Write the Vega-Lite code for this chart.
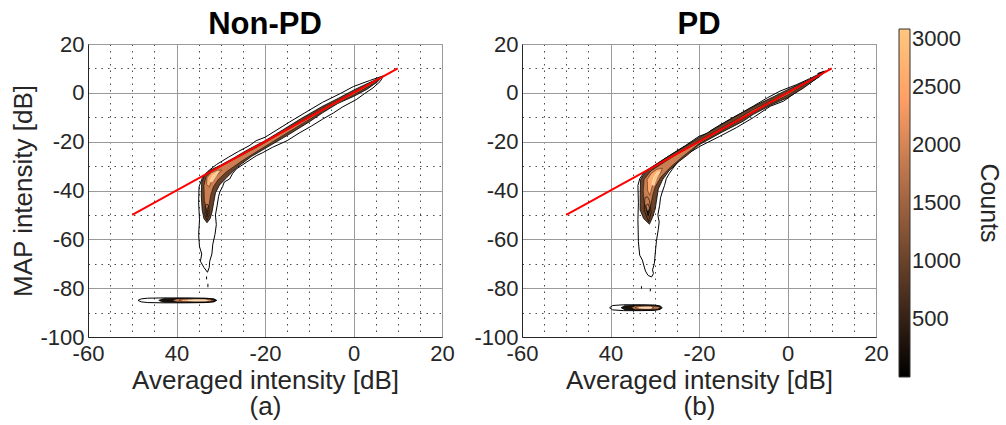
{
"$schema":"https://vega.github.io/schema/vega-lite/v6.json",
"padding":{"left":10,"top":8,"right":0,"bottom":0},
"background":"white",
"data":{"values":[
{"p":"a","t":"o","s":"a_o1","x":6.8,"y":7.0},{"p":"a","t":"o","s":"a_o1","x":3.6,"y":5.0},{"p":"a","t":"o","s":"a_o1","x":0,"y":2.6},{"p":"a","t":"o","s":"a_o1","x":-3,"y":-0.3},{"p":"a","t":"o","s":"a_o1","x":-7,"y":-3.9},{"p":"a","t":"o","s":"a_o1","x":-11,"y":-8.2},{"p":"a","t":"o","s":"a_o1","x":-14.5,"y":-12},{"p":"a","t":"o","s":"a_o1","x":-17.5,"y":-15.4},{"p":"a","t":"o","s":"a_o1","x":-20,"y":-18.2},{"p":"a","t":"o","s":"a_o1","x":-22,"y":-19.6},{"p":"a","t":"o","s":"a_o1","x":-23.6,"y":-21.7},{"p":"a","t":"o","s":"a_o1","x":-26,"y":-24},{"p":"a","t":"o","s":"a_o1","x":-28.2,"y":-26.3},{"p":"a","t":"o","s":"a_o1","x":-31,"y":-29.4},{"p":"a","t":"o","s":"a_o1","x":-33,"y":-32.3},{"p":"a","t":"o","s":"a_o1","x":-34.2,"y":-35},{"p":"a","t":"o","s":"a_o1","x":-34.9,"y":-38.5},{"p":"a","t":"o","s":"a_o1","x":-35.0,"y":-45},{"p":"a","t":"o","s":"a_o1","x":-34.8,"y":-52},{"p":"a","t":"o","s":"a_o1","x":-35.0,"y":-58},{"p":"a","t":"o","s":"a_o1","x":-34.8,"y":-63},{"p":"a","t":"o","s":"a_o1","x":-34.3,"y":-66},{"p":"a","t":"o","s":"a_o1","x":-34.6,"y":-69},{"p":"a","t":"o","s":"a_o1","x":-33.8,"y":-71.5},{"p":"a","t":"o","s":"a_o1","x":-33.0,"y":-73.5},{"p":"a","t":"o","s":"a_o1","x":-32.6,"y":-71.5},{"p":"a","t":"o","s":"a_o1","x":-32.5,"y":-69},{"p":"a","t":"o","s":"a_o1","x":-32.0,"y":-66},{"p":"a","t":"o","s":"a_o1","x":-31.8,"y":-62},{"p":"a","t":"o","s":"a_o1","x":-31.3,"y":-58},{"p":"a","t":"o","s":"a_o1","x":-31.0,"y":-54},{"p":"a","t":"o","s":"a_o1","x":-31.2,"y":-50},{"p":"a","t":"o","s":"a_o1","x":-30.8,"y":-46},{"p":"a","t":"o","s":"a_o1","x":-30.5,"y":-42.5},{"p":"a","t":"o","s":"a_o1","x":-30.2,"y":-40.5},{"p":"a","t":"o","s":"a_o1","x":-29.6,"y":-38.5},{"p":"a","t":"o","s":"a_o1","x":-29.2,"y":-36.5},{"p":"a","t":"o","s":"a_o1","x":-28.0,"y":-35.3},{"p":"a","t":"o","s":"a_o1","x":-27.3,"y":-33},{"p":"a","t":"o","s":"a_o1","x":-26.5,"y":-31.2},{"p":"a","t":"o","s":"a_o1","x":-24.5,"y":-28.8},{"p":"a","t":"o","s":"a_o1","x":-22,"y":-25.8},{"p":"a","t":"o","s":"a_o1","x":-20.5,"y":-24.5},{"p":"a","t":"o","s":"a_o1","x":-18.3,"y":-22.3},{"p":"a","t":"o","s":"a_o1","x":-15,"y":-19.6},{"p":"a","t":"o","s":"a_o1","x":-12.3,"y":-16.5},{"p":"a","t":"o","s":"a_o1","x":-9.5,"y":-13.6},{"p":"a","t":"o","s":"a_o1","x":-7,"y":-10.8},{"p":"a","t":"o","s":"a_o1","x":-4.5,"y":-8.2},{"p":"a","t":"o","s":"a_o1","x":-2.4,"y":-5.7},{"p":"a","t":"o","s":"a_o1","x":0.6,"y":-2.8},{"p":"a","t":"o","s":"a_o1","x":2.5,"y":-0.3},{"p":"a","t":"o","s":"a_o1","x":4.4,"y":2.0},{"p":"a","t":"o","s":"a_o1","x":6.0,"y":4.6},{"p":"a","t":"o","s":"a_o1","x":6.8,"y":7.0},
{"p":"a","t":"o","s":"a_o2","x":-48.7,"y":-85},{"p":"a","t":"o","s":"a_o2","x":-48,"y":-84.4},{"p":"a","t":"o","s":"a_o2","x":-46.5,"y":-84.1},{"p":"a","t":"o","s":"a_o2","x":-43,"y":-84.0},{"p":"a","t":"o","s":"a_o2","x":-38,"y":-84.0},{"p":"a","t":"o","s":"a_o2","x":-33.5,"y":-84.1},{"p":"a","t":"o","s":"a_o2","x":-31.6,"y":-84.4},{"p":"a","t":"o","s":"a_o2","x":-30.9,"y":-85},{"p":"a","t":"o","s":"a_o2","x":-31.6,"y":-85.6},{"p":"a","t":"o","s":"a_o2","x":-33.5,"y":-85.9},{"p":"a","t":"o","s":"a_o2","x":-38,"y":-86},{"p":"a","t":"o","s":"a_o2","x":-43,"y":-86},{"p":"a","t":"o","s":"a_o2","x":-46.5,"y":-85.9},{"p":"a","t":"o","s":"a_o2","x":-48,"y":-85.6},{"p":"a","t":"o","s":"a_o2","x":-48.7,"y":-85},
{"p":"a","t":"o","s":"a_o3","x":-33.2,"y":-75.2},{"p":"a","t":"o","s":"a_o3","x":-33.2,"y":-76.4},
{"p":"a","t":"o","s":"a_o4","x":-32.9,"y":-78.2},{"p":"a","t":"o","s":"a_o4","x":-32.9,"y":-79.6},
{"p":"a","t":"f1","s":"a_f1","v":1000,"x":6.5,"y":6.6},{"p":"a","t":"f1","s":"a_f1","v":1000,"x":3,"y":3.7},{"p":"a","t":"f1","s":"a_f1","v":1000,"x":0,"y":1.1},{"p":"a","t":"f1","s":"a_f1","v":1000,"x":-3.5,"y":-2.3},{"p":"a","t":"f1","s":"a_f1","v":1000,"x":-7,"y":-5.5},{"p":"a","t":"f1","s":"a_f1","v":1000,"x":-12,"y":-10.7},{"p":"a","t":"f1","s":"a_f1","v":1000,"x":-16,"y":-15.2},{"p":"a","t":"f1","s":"a_f1","v":1000,"x":-20,"y":-19.6},{"p":"a","t":"f1","s":"a_f1","v":1000,"x":-24,"y":-23.4},{"p":"a","t":"f1","s":"a_f1","v":1000,"x":-27,"y":-26.6},{"p":"a","t":"f1","s":"a_f1","v":1000,"x":-30,"y":-29.6},{"p":"a","t":"f1","s":"a_f1","v":1000,"x":-32.3,"y":-31.6},{"p":"a","t":"f1","s":"a_f1","v":1000,"x":-33.7,"y":-33.6},{"p":"a","t":"f1","s":"a_f1","v":1000,"x":-34.3,"y":-36.5},{"p":"a","t":"f1","s":"a_f1","v":1000,"x":-34.4,"y":-42},{"p":"a","t":"f1","s":"a_f1","v":1000,"x":-34.2,"y":-48},{"p":"a","t":"f1","s":"a_f1","v":1000,"x":-33.8,"y":-51.5},{"p":"a","t":"f1","s":"a_f1","v":1000,"x":-33.1,"y":-53.2},{"p":"a","t":"f1","s":"a_f1","v":1000,"x":-32.4,"y":-51.5},{"p":"a","t":"f1","s":"a_f1","v":1000,"x":-32.0,"y":-49},{"p":"a","t":"f1","s":"a_f1","v":1000,"x":-31.6,"y":-45},{"p":"a","t":"f1","s":"a_f1","v":1000,"x":-31.2,"y":-41},{"p":"a","t":"f1","s":"a_f1","v":1000,"x":-30.3,"y":-37.8},{"p":"a","t":"f1","s":"a_f1","v":1000,"x":-28.6,"y":-34.6},{"p":"a","t":"f1","s":"a_f1","v":1000,"x":-26,"y":-30},{"p":"a","t":"f1","s":"a_f1","v":1000,"x":-23,"y":-26},{"p":"a","t":"f1","s":"a_f1","v":1000,"x":-20,"y":-22.8},{"p":"a","t":"f1","s":"a_f1","v":1000,"x":-15,"y":-17.5},{"p":"a","t":"f1","s":"a_f1","v":1000,"x":-10,"y":-11.9},{"p":"a","t":"f1","s":"a_f1","v":1000,"x":-7,"y":-8.2},{"p":"a","t":"f1","s":"a_f1","v":1000,"x":-3.5,"y":-4.3},{"p":"a","t":"f1","s":"a_f1","v":1000,"x":0,"y":-1.5},{"p":"a","t":"f1","s":"a_f1","v":1000,"x":3,"y":1.4},{"p":"a","t":"f1","s":"a_f1","v":1000,"x":5.5,"y":4.6},{"p":"a","t":"f1","s":"a_f1","v":1000,"x":6.5,"y":6.6},
{"p":"a","t":"f1","s":"a_f1b","v":250,"x":-44,"y":-85},{"p":"a","t":"f1","s":"a_f1b","v":250,"x":-43,"y":-84.3},{"p":"a","t":"f1","s":"a_f1b","v":250,"x":-38,"y":-84.2},{"p":"a","t":"f1","s":"a_f1b","v":250,"x":-33,"y":-84.25},{"p":"a","t":"f1","s":"a_f1b","v":250,"x":-31.5,"y":-84.5},{"p":"a","t":"f1","s":"a_f1b","v":250,"x":-31.1,"y":-85},{"p":"a","t":"f1","s":"a_f1b","v":250,"x":-31.5,"y":-85.5},{"p":"a","t":"f1","s":"a_f1b","v":250,"x":-33,"y":-85.75},{"p":"a","t":"f1","s":"a_f1b","v":250,"x":-38,"y":-85.8},{"p":"a","t":"f1","s":"a_f1b","v":250,"x":-43,"y":-85.7},{"p":"a","t":"f1","s":"a_f1b","v":250,"x":-44,"y":-85},
{"p":"a","t":"f2","s":"a_f2","v":1900,"x":5.6,"y":5.4},{"p":"a","t":"f2","s":"a_f2","v":1900,"x":0,"y":0.2},{"p":"a","t":"f2","s":"a_f2","v":1900,"x":-7,"y":-6.4},{"p":"a","t":"f2","s":"a_f2","v":1900,"x":-15,"y":-14.8},{"p":"a","t":"f2","s":"a_f2","v":1900,"x":-20,"y":-20.4},{"p":"a","t":"f2","s":"a_f2","v":1900,"x":-25,"y":-25.3},{"p":"a","t":"f2","s":"a_f2","v":1900,"x":-29,"y":-28.9},{"p":"a","t":"f2","s":"a_f2","v":1900,"x":-31.8,"y":-31.6},{"p":"a","t":"f2","s":"a_f2","v":1900,"x":-33.3,"y":-34.3},{"p":"a","t":"f2","s":"a_f2","v":1900,"x":-33.8,"y":-38},{"p":"a","t":"f2","s":"a_f2","v":1900,"x":-33.7,"y":-44},{"p":"a","t":"f2","s":"a_f2","v":1900,"x":-33.2,"y":-48},{"p":"a","t":"f2","s":"a_f2","v":1900,"x":-32.6,"y":-45.5},{"p":"a","t":"f2","s":"a_f2","v":1900,"x":-32.3,"y":-42},{"p":"a","t":"f2","s":"a_f2","v":1900,"x":-31.7,"y":-38.6},{"p":"a","t":"f2","s":"a_f2","v":1900,"x":-30.6,"y":-35.6},{"p":"a","t":"f2","s":"a_f2","v":1900,"x":-28.7,"y":-32.3},{"p":"a","t":"f2","s":"a_f2","v":1900,"x":-25,"y":-27.6},{"p":"a","t":"f2","s":"a_f2","v":1900,"x":-20,"y":-22},{"p":"a","t":"f2","s":"a_f2","v":1900,"x":-15,"y":-16.4},{"p":"a","t":"f2","s":"a_f2","v":1900,"x":-7,"y":-7.6},{"p":"a","t":"f2","s":"a_f2","v":1900,"x":0,"y":-0.8},{"p":"a","t":"f2","s":"a_f2","v":1900,"x":4.5,"y":3.8},{"p":"a","t":"f2","s":"a_f2","v":1900,"x":5.6,"y":5.4},
{"p":"a","t":"f2","s":"a_f2b","v":1900,"x":-41,"y":-85},{"p":"a","t":"f2","s":"a_f2b","v":1900,"x":-40,"y":-84.4},{"p":"a","t":"f2","s":"a_f2b","v":1900,"x":-36,"y":-84.3},{"p":"a","t":"f2","s":"a_f2b","v":1900,"x":-32.5,"y":-84.4},{"p":"a","t":"f2","s":"a_f2b","v":1900,"x":-31.4,"y":-85},{"p":"a","t":"f2","s":"a_f2b","v":1900,"x":-32.5,"y":-85.6},{"p":"a","t":"f2","s":"a_f2b","v":1900,"x":-36,"y":-85.7},{"p":"a","t":"f2","s":"a_f2b","v":1900,"x":-40,"y":-85.6},{"p":"a","t":"f2","s":"a_f2b","v":1900,"x":-41,"y":-85},
{"p":"a","t":"f3","s":"a_f3","v":2600,"x":-33.2,"y":-37.5},{"p":"a","t":"f3","s":"a_f3","v":2600,"x":-33.1,"y":-34.8},{"p":"a","t":"f3","s":"a_f3","v":2600,"x":-32.2,"y":-32.8},{"p":"a","t":"f3","s":"a_f3","v":2600,"x":-30.8,"y":-31.7},{"p":"a","t":"f3","s":"a_f3","v":2600,"x":-29.8,"y":-31.6},{"p":"a","t":"f3","s":"a_f3","v":2600,"x":-30.5,"y":-33},{"p":"a","t":"f3","s":"a_f3","v":2600,"x":-31.8,"y":-35},{"p":"a","t":"f3","s":"a_f3","v":2600,"x":-32.6,"y":-38.5},{"p":"a","t":"f3","s":"a_f3","v":2600,"x":-33.2,"y":-37.5},
{"p":"a","t":"f3","s":"a_f3b","v":2600,"x":-39.4,"y":-85},{"p":"a","t":"f3","s":"a_f3b","v":2600,"x":-38.5,"y":-84.55},{"p":"a","t":"f3","s":"a_f3b","v":2600,"x":-35,"y":-84.5},{"p":"a","t":"f3","s":"a_f3b","v":2600,"x":-32.3,"y":-84.7},{"p":"a","t":"f3","s":"a_f3b","v":2600,"x":-32,"y":-85},{"p":"a","t":"f3","s":"a_f3b","v":2600,"x":-32.3,"y":-85.3},{"p":"a","t":"f3","s":"a_f3b","v":2600,"x":-35,"y":-85.5},{"p":"a","t":"f3","s":"a_f3b","v":2600,"x":-38.5,"y":-85.45},{"p":"a","t":"f3","s":"a_f3b","v":2600,"x":-39.4,"y":-85},
{"p":"a","t":"f4","s":"a_f4","v":3000,"x":-32.4,"y":-36.2},{"p":"a","t":"f4","s":"a_f4","v":3000,"x":-31.7,"y":-33.6},{"p":"a","t":"f4","s":"a_f4","v":3000,"x":-30.6,"y":-32.2},{"p":"a","t":"f4","s":"a_f4","v":3000,"x":-30.9,"y":-33.6},{"p":"a","t":"f4","s":"a_f4","v":3000,"x":-32,"y":-36.5},{"p":"a","t":"f4","s":"a_f4","v":3000,"x":-32.4,"y":-36.2},
{"p":"a","t":"f4","s":"a_f4b","v":3000,"x":-37.5,"y":-85},{"p":"a","t":"f4","s":"a_f4b","v":3000,"x":-36,"y":-84.75},{"p":"a","t":"f4","s":"a_f4b","v":3000,"x":-33.5,"y":-84.75},{"p":"a","t":"f4","s":"a_f4b","v":3000,"x":-33,"y":-85},{"p":"a","t":"f4","s":"a_f4b","v":3000,"x":-33.5,"y":-85.25},{"p":"a","t":"f4","s":"a_f4b","v":3000,"x":-36,"y":-85.25},{"p":"a","t":"f4","s":"a_f4b","v":3000,"x":-37.5,"y":-85},
{"p":"a","t":"o2","s":"a_l1","x":-33.5,"y":-46.5},{"p":"a","t":"o2","s":"a_l1","x":-33.6,"y":-50},{"p":"a","t":"o2","s":"a_l1","x":-33.1,"y":-52.2},{"p":"a","t":"o2","s":"a_l1","x":-32.6,"y":-50},{"p":"a","t":"o2","s":"a_l1","x":-32.7,"y":-46.5},{"p":"a","t":"o2","s":"a_l1","x":-33.1,"y":-45.5},{"p":"a","t":"o2","s":"a_l1","x":-33.5,"y":-46.5},
{"p":"a","t":"o2","s":"a_l2","x":-33.3,"y":-48.8},{"p":"a","t":"o2","s":"a_l2","x":-33.1,"y":-50.8},{"p":"a","t":"o2","s":"a_l2","x":-32.9,"y":-48.8},{"p":"a","t":"o2","s":"a_l2","x":-33.1,"y":-48},{"p":"a","t":"o2","s":"a_l2","x":-33.3,"y":-48.8},

{"p":"b","t":"o","s":"b_o1","x":8.6,"y":9.0},{"p":"b","t":"o","s":"b_o1","x":5,"y":5.8},{"p":"b","t":"o","s":"b_o1","x":2.1,"y":3.4},{"p":"b","t":"o","s":"b_o1","x":-1.7,"y":0.7},{"p":"b","t":"o","s":"b_o1","x":-4.5,"y":-2},{"p":"b","t":"o","s":"b_o1","x":-7.7,"y":-5.4},{"p":"b","t":"o","s":"b_o1","x":-10.5,"y":-8.3},{"p":"b","t":"o","s":"b_o1","x":-13,"y":-10.8},{"p":"b","t":"o","s":"b_o1","x":-15.5,"y":-13.4},{"p":"b","t":"o","s":"b_o1","x":-17.5,"y":-15.6},{"p":"b","t":"o","s":"b_o1","x":-18,"y":-16.5},{"p":"b","t":"o","s":"b_o1","x":-20,"y":-17.8},{"p":"b","t":"o","s":"b_o1","x":-23,"y":-21.5},{"p":"b","t":"o","s":"b_o1","x":-26.7,"y":-25.7},{"p":"b","t":"o","s":"b_o1","x":-29,"y":-28.5},{"p":"b","t":"o","s":"b_o1","x":-30.6,"y":-30.3},{"p":"b","t":"o","s":"b_o1","x":-32.3,"y":-32.3},{"p":"b","t":"o","s":"b_o1","x":-33.4,"y":-35.2},{"p":"b","t":"o","s":"b_o1","x":-33.8,"y":-38},{"p":"b","t":"o","s":"b_o1","x":-33.7,"y":-45},{"p":"b","t":"o","s":"b_o1","x":-33.8,"y":-52},{"p":"b","t":"o","s":"b_o1","x":-33.7,"y":-61},{"p":"b","t":"o","s":"b_o1","x":-33.4,"y":-66.5},{"p":"b","t":"o","s":"b_o1","x":-32.8,"y":-68.5},{"p":"b","t":"o","s":"b_o1","x":-32.5,"y":-70.5},{"p":"b","t":"o","s":"b_o1","x":-32.1,"y":-73},{"p":"b","t":"o","s":"b_o1","x":-31.5,"y":-74.8},{"p":"b","t":"o","s":"b_o1","x":-30.7,"y":-75.4},{"p":"b","t":"o","s":"b_o1","x":-30.3,"y":-74},{"p":"b","t":"o","s":"b_o1","x":-30.5,"y":-72.5},{"p":"b","t":"o","s":"b_o1","x":-30.1,"y":-70},{"p":"b","t":"o","s":"b_o1","x":-30.0,"y":-67.9},{"p":"b","t":"o","s":"b_o1","x":-29.8,"y":-64},{"p":"b","t":"o","s":"b_o1","x":-29.6,"y":-60.4},{"p":"b","t":"o","s":"b_o1","x":-29.2,"y":-56},{"p":"b","t":"o","s":"b_o1","x":-29.0,"y":-52.9},{"p":"b","t":"o","s":"b_o1","x":-29.3,"y":-50},{"p":"b","t":"o","s":"b_o1","x":-28.9,"y":-46.1},{"p":"b","t":"o","s":"b_o1","x":-28.7,"y":-43},{"p":"b","t":"o","s":"b_o1","x":-28.3,"y":-40.6},{"p":"b","t":"o","s":"b_o1","x":-27.8,"y":-38},{"p":"b","t":"o","s":"b_o1","x":-27.4,"y":-35.2},{"p":"b","t":"o","s":"b_o1","x":-26.7,"y":-33},{"p":"b","t":"o","s":"b_o1","x":-26.0,"y":-31.2},{"p":"b","t":"o","s":"b_o1","x":-25.5,"y":-30},{"p":"b","t":"o","s":"b_o1","x":-23.6,"y":-25.9},{"p":"b","t":"o","s":"b_o1","x":-21.5,"y":-23.8},{"p":"b","t":"o","s":"b_o1","x":-19.8,"y":-21.9},{"p":"b","t":"o","s":"b_o1","x":-15.3,"y":-17.8},{"p":"b","t":"o","s":"b_o1","x":-11.5,"y":-14.2},{"p":"b","t":"o","s":"b_o1","x":-7.7,"y":-10.1},{"p":"b","t":"o","s":"b_o1","x":-3.9,"y":-5.5},{"p":"b","t":"o","s":"b_o1","x":-0.9,"y":-3.4},{"p":"b","t":"o","s":"b_o1","x":0.6,"y":-1.5},{"p":"b","t":"o","s":"b_o1","x":4.4,"y":3.3},{"p":"b","t":"o","s":"b_o1","x":7.4,"y":6.8},{"p":"b","t":"o","s":"b_o1","x":8.6,"y":9.0},
{"p":"b","t":"o","s":"b_o2","x":-40.2,"y":-88},{"p":"b","t":"o","s":"b_o2","x":-39.5,"y":-87.1},{"p":"b","t":"o","s":"b_o2","x":-37,"y":-86.8},{"p":"b","t":"o","s":"b_o2","x":-33,"y":-86.8},{"p":"b","t":"o","s":"b_o2","x":-30,"y":-86.9},{"p":"b","t":"o","s":"b_o2","x":-28.8,"y":-87.3},{"p":"b","t":"o","s":"b_o2","x":-28.3,"y":-88},{"p":"b","t":"o","s":"b_o2","x":-28.8,"y":-88.7},{"p":"b","t":"o","s":"b_o2","x":-30,"y":-89.1},{"p":"b","t":"o","s":"b_o2","x":-33,"y":-89.2},{"p":"b","t":"o","s":"b_o2","x":-37,"y":-89.2},{"p":"b","t":"o","s":"b_o2","x":-39.5,"y":-88.9},{"p":"b","t":"o","s":"b_o2","x":-40.2,"y":-88},
{"p":"b","t":"o","s":"b_o3","x":-33,"y":-79.2},{"p":"b","t":"o","s":"b_o3","x":-33,"y":-80.2},
{"p":"b","t":"o","s":"b_o4","x":-31,"y":-80.2},{"p":"b","t":"o","s":"b_o4","x":-31,"y":-81.3},
{"p":"b","t":"f1","s":"b_f1","v":1000,"x":7.5,"y":7.7},{"p":"b","t":"f1","s":"b_f1","v":1000,"x":4,"y":4.6},{"p":"b","t":"f1","s":"b_f1","v":1000,"x":0,"y":1.3},{"p":"b","t":"f1","s":"b_f1","v":1000,"x":-3.5,"y":-1.9},{"p":"b","t":"f1","s":"b_f1","v":1000,"x":-7.7,"y":-5.6},{"p":"b","t":"f1","s":"b_f1","v":1000,"x":-12,"y":-9.9},{"p":"b","t":"f1","s":"b_f1","v":1000,"x":-16,"y":-14.2},{"p":"b","t":"f1","s":"b_f1","v":1000,"x":-20,"y":-18.3},{"p":"b","t":"f1","s":"b_f1","v":1000,"x":-23,"y":-21.7},{"p":"b","t":"f1","s":"b_f1","v":1000,"x":-26,"y":-25},{"p":"b","t":"f1","s":"b_f1","v":1000,"x":-28.5,"y":-27.8},{"p":"b","t":"f1","s":"b_f1","v":1000,"x":-30.8,"y":-30.6},{"p":"b","t":"f1","s":"b_f1","v":1000,"x":-32.4,"y":-33.2},{"p":"b","t":"f1","s":"b_f1","v":1000,"x":-33.2,"y":-35.5},{"p":"b","t":"f1","s":"b_f1","v":1000,"x":-33.3,"y":-42},{"p":"b","t":"f1","s":"b_f1","v":1000,"x":-33.3,"y":-48},{"p":"b","t":"f1","s":"b_f1","v":1000,"x":-32.5,"y":-51.5},{"p":"b","t":"f1","s":"b_f1","v":1000,"x":-31.2,"y":-53.8},{"p":"b","t":"f1","s":"b_f1","v":1000,"x":-30.5,"y":-51},{"p":"b","t":"f1","s":"b_f1","v":1000,"x":-29.9,"y":-47.6},{"p":"b","t":"f1","s":"b_f1","v":1000,"x":-29.5,"y":-43},{"p":"b","t":"f1","s":"b_f1","v":1000,"x":-29.2,"y":-39.4},{"p":"b","t":"f1","s":"b_f1","v":1000,"x":-28.2,"y":-35.5},{"p":"b","t":"f1","s":"b_f1","v":1000,"x":-26.8,"y":-32},{"p":"b","t":"f1","s":"b_f1","v":1000,"x":-25.0,"y":-28.8},{"p":"b","t":"f1","s":"b_f1","v":1000,"x":-22.5,"y":-25.3},{"p":"b","t":"f1","s":"b_f1","v":1000,"x":-20,"y":-21.3},{"p":"b","t":"f1","s":"b_f1","v":1000,"x":-15,"y":-16.3},{"p":"b","t":"f1","s":"b_f1","v":1000,"x":-10,"y":-11.6},{"p":"b","t":"f1","s":"b_f1","v":1000,"x":-7.7,"y":-8.8},{"p":"b","t":"f1","s":"b_f1","v":1000,"x":-3.5,"y":-4.8},{"p":"b","t":"f1","s":"b_f1","v":1000,"x":0,"y":-2.0},{"p":"b","t":"f1","s":"b_f1","v":1000,"x":3.5,"y":1.8},{"p":"b","t":"f1","s":"b_f1","v":1000,"x":6.5,"y":5.8},{"p":"b","t":"f1","s":"b_f1","v":1000,"x":7.5,"y":7.7},
{"p":"b","t":"f1","s":"b_f1t","v":150,"x":6.8,"y":7.9},{"p":"b","t":"f1","s":"b_f1t","v":150,"x":8.3,"y":8.9},{"p":"b","t":"f1","s":"b_f1t","v":150,"x":8.0,"y":8.2},{"p":"b","t":"f1","s":"b_f1t","v":150,"x":6.8,"y":7.9},
{"p":"b","t":"f1","s":"b_f1b","v":250,"x":-37.6,"y":-88},{"p":"b","t":"f1","s":"b_f1b","v":250,"x":-36.8,"y":-87.2},{"p":"b","t":"f1","s":"b_f1b","v":250,"x":-33,"y":-87.0},{"p":"b","t":"f1","s":"b_f1b","v":250,"x":-30,"y":-87.15},{"p":"b","t":"f1","s":"b_f1b","v":250,"x":-28.8,"y":-87.5},{"p":"b","t":"f1","s":"b_f1b","v":250,"x":-28.5,"y":-88},{"p":"b","t":"f1","s":"b_f1b","v":250,"x":-28.8,"y":-88.5},{"p":"b","t":"f1","s":"b_f1b","v":250,"x":-30,"y":-88.85},{"p":"b","t":"f1","s":"b_f1b","v":250,"x":-33,"y":-89},{"p":"b","t":"f1","s":"b_f1b","v":250,"x":-36.8,"y":-88.8},{"p":"b","t":"f1","s":"b_f1b","v":250,"x":-37.6,"y":-88},
{"p":"b","t":"f2","s":"b_f2","v":1900,"x":6,"y":5.8},{"p":"b","t":"f2","s":"b_f2","v":1900,"x":0,"y":0},{"p":"b","t":"f2","s":"b_f2","v":1900,"x":-7.7,"y":-6.9},{"p":"b","t":"f2","s":"b_f2","v":1900,"x":-15,"y":-14.6},{"p":"b","t":"f2","s":"b_f2","v":1900,"x":-20,"y":-19.6},{"p":"b","t":"f2","s":"b_f2","v":1900,"x":-25,"y":-25.1},{"p":"b","t":"f2","s":"b_f2","v":1900,"x":-28.5,"y":-29.2},{"p":"b","t":"f2","s":"b_f2","v":1900,"x":-30.9,"y":-32},{"p":"b","t":"f2","s":"b_f2","v":1900,"x":-32.4,"y":-35.5},{"p":"b","t":"f2","s":"b_f2","v":1900,"x":-32.6,"y":-40},{"p":"b","t":"f2","s":"b_f2","v":1900,"x":-32.4,"y":-45},{"p":"b","t":"f2","s":"b_f2","v":1900,"x":-31.6,"y":-49},{"p":"b","t":"f2","s":"b_f2","v":1900,"x":-30.9,"y":-46},{"p":"b","t":"f2","s":"b_f2","v":1900,"x":-30.5,"y":-42},{"p":"b","t":"f2","s":"b_f2","v":1900,"x":-29.9,"y":-38.5},{"p":"b","t":"f2","s":"b_f2","v":1900,"x":-28.6,"y":-34.5},{"p":"b","t":"f2","s":"b_f2","v":1900,"x":-26.5,"y":-30.5},{"p":"b","t":"f2","s":"b_f2","v":1900,"x":-24,"y":-26.6},{"p":"b","t":"f2","s":"b_f2","v":1900,"x":-20,"y":-20.8},{"p":"b","t":"f2","s":"b_f2","v":1900,"x":-15,"y":-15.6},{"p":"b","t":"f2","s":"b_f2","v":1900,"x":-7.7,"y":-7.9},{"p":"b","t":"f2","s":"b_f2","v":1900,"x":0,"y":-0.9},{"p":"b","t":"f2","s":"b_f2","v":1900,"x":5,"y":4.6},{"p":"b","t":"f2","s":"b_f2","v":1900,"x":6,"y":5.8},
{"p":"b","t":"f2","s":"b_f2b","v":1900,"x":-35.3,"y":-88},{"p":"b","t":"f2","s":"b_f2b","v":1900,"x":-34.5,"y":-87.3},{"p":"b","t":"f2","s":"b_f2b","v":1900,"x":-31.5,"y":-87.2},{"p":"b","t":"f2","s":"b_f2b","v":1900,"x":-29.3,"y":-87.5},{"p":"b","t":"f2","s":"b_f2b","v":1900,"x":-28.7,"y":-88},{"p":"b","t":"f2","s":"b_f2b","v":1900,"x":-29.3,"y":-88.5},{"p":"b","t":"f2","s":"b_f2b","v":1900,"x":-31.5,"y":-88.8},{"p":"b","t":"f2","s":"b_f2b","v":1900,"x":-34.5,"y":-88.7},{"p":"b","t":"f2","s":"b_f2b","v":1900,"x":-35.3,"y":-88},
{"p":"b","t":"f3","s":"b_f3","v":2600,"x":-31.6,"y":-40},{"p":"b","t":"f3","s":"b_f3","v":2600,"x":-31.7,"y":-35.5},{"p":"b","t":"f3","s":"b_f3","v":2600,"x":-30.8,"y":-33},{"p":"b","t":"f3","s":"b_f3","v":2600,"x":-29.5,"y":-31.3},{"p":"b","t":"f3","s":"b_f3","v":2600,"x":-28.3,"y":-30.9},{"p":"b","t":"f3","s":"b_f3","v":2600,"x":-28.6,"y":-32.5},{"p":"b","t":"f3","s":"b_f3","v":2600,"x":-29.7,"y":-35},{"p":"b","t":"f3","s":"b_f3","v":2600,"x":-30.6,"y":-38.5},{"p":"b","t":"f3","s":"b_f3","v":2600,"x":-31.1,"y":-42},{"p":"b","t":"f3","s":"b_f3","v":2600,"x":-31.6,"y":-40},
{"p":"b","t":"f3","s":"b_f3b","v":2600,"x":-34.5,"y":-88},{"p":"b","t":"f3","s":"b_f3b","v":2600,"x":-33.5,"y":-87.5},{"p":"b","t":"f3","s":"b_f3b","v":2600,"x":-31,"y":-87.45},{"p":"b","t":"f3","s":"b_f3b","v":2600,"x":-30.2,"y":-88},{"p":"b","t":"f3","s":"b_f3b","v":2600,"x":-31,"y":-88.55},{"p":"b","t":"f3","s":"b_f3b","v":2600,"x":-33.5,"y":-88.5},{"p":"b","t":"f3","s":"b_f3b","v":2600,"x":-34.5,"y":-88},
{"p":"b","t":"f4","s":"b_f4","v":3000,"x":-30.6,"y":-37.5},{"p":"b","t":"f4","s":"b_f4","v":3000,"x":-30.2,"y":-34.5},{"p":"b","t":"f4","s":"b_f4","v":3000,"x":-29.3,"y":-32.3},{"p":"b","t":"f4","s":"b_f4","v":3000,"x":-28.9,"y":-32.6},{"p":"b","t":"f4","s":"b_f4","v":3000,"x":-29.6,"y":-35},{"p":"b","t":"f4","s":"b_f4","v":3000,"x":-30.2,"y":-38},{"p":"b","t":"f4","s":"b_f4","v":3000,"x":-30.6,"y":-37.5},
{"p":"b","t":"f4","s":"b_f4b","v":3000,"x":-33.5,"y":-88},{"p":"b","t":"f4","s":"b_f4b","v":3000,"x":-32.5,"y":-87.75},{"p":"b","t":"f4","s":"b_f4b","v":3000,"x":-31,"y":-87.75},{"p":"b","t":"f4","s":"b_f4b","v":3000,"x":-30.6,"y":-88},{"p":"b","t":"f4","s":"b_f4b","v":3000,"x":-31,"y":-88.25},{"p":"b","t":"f4","s":"b_f4b","v":3000,"x":-32.5,"y":-88.25},{"p":"b","t":"f4","s":"b_f4b","v":3000,"x":-33.5,"y":-88},
{"p":"b","t":"o2","s":"b_l1","x":-32.2,"y":-43},{"p":"b","t":"o2","s":"b_l1","x":-32.4,"y":-48},{"p":"b","t":"o2","s":"b_l1","x":-31.4,"y":-52.8},{"p":"b","t":"o2","s":"b_l1","x":-30.8,"y":-49},{"p":"b","t":"o2","s":"b_l1","x":-31.2,"y":-44},{"p":"b","t":"o2","s":"b_l1","x":-31.7,"y":-42.5},{"p":"b","t":"o2","s":"b_l1","x":-32.2,"y":-43},
{"p":"b","t":"o2","s":"b_l2","x":-32.0,"y":-46},{"p":"b","t":"o2","s":"b_l2","x":-31.5,"y":-50.5},{"p":"b","t":"o2","s":"b_l2","x":-31.1,"y":-47.5},{"p":"b","t":"o2","s":"b_l2","x":-31.5,"y":-45.5},{"p":"b","t":"o2","s":"b_l2","x":-32.0,"y":-46},
{"p":"b","t":"o2","s":"b_l3","x":-31.7,"y":-48.5},{"p":"b","t":"o2","s":"b_l3","x":-31.5,"y":-50},{"p":"b","t":"o2","s":"b_l3","x":-31.3,"y":-48.5},{"p":"b","t":"o2","s":"b_l3","x":-31.7,"y":-48.5}
]},
"hconcat":[
{"width":354,"height":293,
"title":{"text":"Non-PD","fontSize":31,"fontWeight":"bold","font":"Liberation Sans","color":"#000000","offset":-8,"anchor":"middle"},
"layer":[
{"transform":[{"filter":"datum.p==='a' && datum.t==='o'"}],"mark":{"type":"line","stroke":"#000000","strokeWidth":1},
"encoding":{"x":{"field":"x","type":"quantitative","scale":{"domain":[-60,20],"nice":false},"axis":{"title":["Averaged intensity [dB]","(a)"],"values":[-60,-55,-50,-45,-40,-35,-30,-25,-20,-15,-10,-5,0,5,10,15,20],"labelExpr":"datum.value % 20 === 0 ? (datum.value === -40 ? '40' : '' + datum.value) : ''","gridColor":{"condition":{"test":"datum.value % 20 === 0","value":"#9a9a9a"},"value":"#4a4a4a"},"gridDash":{"condition":{"test":"datum.value % 20 === 0","value":[]},"value":[1.5,5]}}},
"y":{"field":"y","type":"quantitative","scale":{"domain":[-100,20],"nice":false},"axis":{"title":"MAP intensity [dB]","values":[-100,-90,-80,-70,-60,-50,-40,-30,-20,-10,0,10,20],"labelExpr":"datum.value % 20 === 0 ? '' + datum.value : ''","gridColor":{"condition":{"test":"datum.value % 20 === 0","value":"#9a9a9a"},"value":"#4a4a4a"},"gridDash":{"condition":{"test":"datum.value % 20 === 0","value":[]},"value":[1.5,5]}}},
"detail":{"field":"s"},"order":{"value":null}}},
{"transform":[{"filter":"datum.p==='a' && datum.t==='f1'"}],"mark":{"type":"line","filled":true,"stroke":"#000000","strokeWidth":0.8},
"encoding":{"x":{"field":"x","type":"quantitative"},"y":{"field":"y","type":"quantitative"},"detail":{"field":"s"},"order":{"value":null},
"color":{"field":"v","type":"quantitative","scale":{"domain":[0,2400,3000],"range":["#000000","#ff9f66","#ffc77f"],"interpolate":"rgb"},"legend":{"title":"Counts","values":[500,1000,1500,2000,2500,3000],"format":"d","orient":"none","legendX":811,"legendY":-15,"direction":"vertical","gradientLength":348,"gradientThickness":11}}}},
{"transform":[{"filter":"datum.p==='a' && datum.t==='f2'"}],"mark":{"type":"line","filled":true,"stroke":"#000000","strokeWidth":0.5},
"encoding":{"x":{"field":"x","type":"quantitative"},"y":{"field":"y","type":"quantitative"},"detail":{"field":"s"},"order":{"value":null},
"color":{"field":"v","type":"quantitative","scale":{"domain":[0,2400,3000],"range":["#000000","#ff9f66","#ffc77f"],"interpolate":"rgb"},"legend":{"title":"Counts","values":[500,1000,1500,2000,2500,3000],"format":"d","orient":"none","legendX":811,"legendY":-15,"direction":"vertical","gradientLength":348,"gradientThickness":11}}}},
{"transform":[{"filter":"datum.p==='a' && datum.t==='f3'"}],"mark":{"type":"line","filled":true,"stroke":"#000000","strokeWidth":0.4},
"encoding":{"x":{"field":"x","type":"quantitative"},"y":{"field":"y","type":"quantitative"},"detail":{"field":"s"},"order":{"value":null},
"color":{"field":"v","type":"quantitative","scale":{"domain":[0,2400,3000],"range":["#000000","#ff9f66","#ffc77f"],"interpolate":"rgb"},"legend":{"title":"Counts","values":[500,1000,1500,2000,2500,3000],"format":"d","orient":"none","legendX":811,"legendY":-15,"direction":"vertical","gradientLength":348,"gradientThickness":11}}}},
{"transform":[{"filter":"datum.p==='a' && datum.t==='f4'"}],"mark":{"type":"line","filled":true,"stroke":"#ffffff","strokeWidth":0.5},
"encoding":{"x":{"field":"x","type":"quantitative"},"y":{"field":"y","type":"quantitative"},"detail":{"field":"s"},"order":{"value":null},
"color":{"field":"v","type":"quantitative","scale":{"domain":[0,2400,3000],"range":["#000000","#ff9f66","#ffc77f"],"interpolate":"rgb"},"legend":{"title":"Counts","values":[500,1000,1500,2000,2500,3000],"format":"d","orient":"none","legendX":811,"legendY":-15,"direction":"vertical","gradientLength":348,"gradientThickness":11}}}},
{"transform":[{"filter":"datum.p==='a' && datum.t==='o2'"}],"mark":{"type":"line","stroke":"#000000","strokeWidth":0.6},
"encoding":{"x":{"field":"x","type":"quantitative"},"y":{"field":"y","type":"quantitative"},"detail":{"field":"s"},"order":{"value":null}}},
{"data":{"values":[{"x":-50,"y":-50},{"x":10,"y":10}]},"mark":{"type":"line","color":"#ff0000","strokeWidth":2},
"encoding":{"x":{"field":"x","type":"quantitative"},"y":{"field":"y","type":"quantitative"}}}
]},
{"width":354,"height":293,
"title":{"text":"PD","fontSize":31,"fontWeight":"bold","font":"Liberation Sans","color":"#000000","offset":-8,"anchor":"middle"},
"layer":[
{"transform":[{"filter":"datum.p==='b' && datum.t==='o'"}],"mark":{"type":"line","stroke":"#000000","strokeWidth":1},
"encoding":{"x":{"field":"x","type":"quantitative","scale":{"domain":[-60,20],"nice":false},"axis":{"title":["Averaged intensity [dB]","(b)"],"values":[-60,-55,-50,-45,-40,-35,-30,-25,-20,-15,-10,-5,0,5,10,15,20],"labelExpr":"datum.value % 20 === 0 ? (datum.value === -40 ? '40' : '' + datum.value) : ''","gridColor":{"condition":{"test":"datum.value % 20 === 0","value":"#9a9a9a"},"value":"#4a4a4a"},"gridDash":{"condition":{"test":"datum.value % 20 === 0","value":[]},"value":[1.5,5]}}},
"y":{"field":"y","type":"quantitative","scale":{"domain":[-100,20],"nice":false},"axis":{"title":null,"values":[-100,-90,-80,-70,-60,-50,-40,-30,-20,-10,0,10,20],"labelExpr":"datum.value % 20 === 0 ? '' + datum.value : ''","gridColor":{"condition":{"test":"datum.value % 20 === 0","value":"#9a9a9a"},"value":"#4a4a4a"},"gridDash":{"condition":{"test":"datum.value % 20 === 0","value":[]},"value":[1.5,5]}}},
"detail":{"field":"s"},"order":{"value":null}}},
{"transform":[{"filter":"datum.p==='b' && datum.t==='f1'"}],"mark":{"type":"line","filled":true,"stroke":"#000000","strokeWidth":0.8},
"encoding":{"x":{"field":"x","type":"quantitative"},"y":{"field":"y","type":"quantitative"},"detail":{"field":"s"},"order":{"value":null},
"color":{"field":"v","type":"quantitative","scale":{"domain":[0,2400,3000],"range":["#000000","#ff9f66","#ffc77f"],"interpolate":"rgb"},"legend":{"title":"Counts","values":[500,1000,1500,2000,2500,3000],"format":"d","orient":"none","legendX":811,"legendY":-15,"direction":"vertical","gradientLength":348,"gradientThickness":11}}}},
{"transform":[{"filter":"datum.p==='b' && datum.t==='f2'"}],"mark":{"type":"line","filled":true,"stroke":"#000000","strokeWidth":0.5},
"encoding":{"x":{"field":"x","type":"quantitative"},"y":{"field":"y","type":"quantitative"},"detail":{"field":"s"},"order":{"value":null},
"color":{"field":"v","type":"quantitative","scale":{"domain":[0,2400,3000],"range":["#000000","#ff9f66","#ffc77f"],"interpolate":"rgb"},"legend":{"title":"Counts","values":[500,1000,1500,2000,2500,3000],"format":"d","orient":"none","legendX":811,"legendY":-15,"direction":"vertical","gradientLength":348,"gradientThickness":11}}}},
{"transform":[{"filter":"datum.p==='b' && datum.t==='f3'"}],"mark":{"type":"line","filled":true,"stroke":"#000000","strokeWidth":0.4},
"encoding":{"x":{"field":"x","type":"quantitative"},"y":{"field":"y","type":"quantitative"},"detail":{"field":"s"},"order":{"value":null},
"color":{"field":"v","type":"quantitative","scale":{"domain":[0,2400,3000],"range":["#000000","#ff9f66","#ffc77f"],"interpolate":"rgb"},"legend":{"title":"Counts","values":[500,1000,1500,2000,2500,3000],"format":"d","orient":"none","legendX":811,"legendY":-15,"direction":"vertical","gradientLength":348,"gradientThickness":11}}}},
{"transform":[{"filter":"datum.p==='b' && datum.t==='f4'"}],"mark":{"type":"line","filled":true,"stroke":"#ffffff","strokeWidth":0.5},
"encoding":{"x":{"field":"x","type":"quantitative"},"y":{"field":"y","type":"quantitative"},"detail":{"field":"s"},"order":{"value":null},
"color":{"field":"v","type":"quantitative","scale":{"domain":[0,2400,3000],"range":["#000000","#ff9f66","#ffc77f"],"interpolate":"rgb"},"legend":{"title":"Counts","values":[500,1000,1500,2000,2500,3000],"format":"d","orient":"none","legendX":811,"legendY":-15,"direction":"vertical","gradientLength":348,"gradientThickness":11}}}},
{"transform":[{"filter":"datum.p==='b' && datum.t==='o2'"}],"mark":{"type":"line","stroke":"#000000","strokeWidth":0.6},
"encoding":{"x":{"field":"x","type":"quantitative"},"y":{"field":"y","type":"quantitative"},"detail":{"field":"s"},"order":{"value":null}}},
{"data":{"values":[{"x":-50,"y":-50},{"x":10,"y":10}]},"mark":{"type":"line","color":"#ff0000","strokeWidth":2},
"encoding":{"x":{"field":"x","type":"quantitative"},"y":{"field":"y","type":"quantitative"}}}
]}
],
"spacing":18,
"resolve":{"scale":{"color":"shared"}},
"config":{
"view":{"stroke":"#8a8a8a","strokeWidth":1},
"font":"Liberation Sans",
"axis":{"labelFont":"Liberation Sans","labelFontSize":22,"labelColor":"#262626","titleFont":"Liberation Sans","titleFontSize":26,"titleFontWeight":"normal","titleColor":"#262626","ticks":false,"domain":true,"domainColor":"#262626","domainWidth":1,"grid":true,"gridWidth":1,"tickCount":200,"labelFlush":false,"labelOverlap":false,"labelBound":false,"titleLineHeight":26},
"axisX":{"labelPadding":6,"titlePadding":3},
"axisY":{"labelPadding":4,"titlePadding":3},
"legend":{"gradientStrokeColor":"#333333","gradientStrokeWidth":1,"labelFont":"Liberation Sans","labelFontSize":22,"labelColor":"#262626","labelOffset":7,"titleFont":"Liberation Sans","titleOrient":"right","titleAngle":270,"titleFontSize":25,"titleFontWeight":"normal","titleColor":"#262626","titleAnchor":"middle","titlePadding":15}
}
}
